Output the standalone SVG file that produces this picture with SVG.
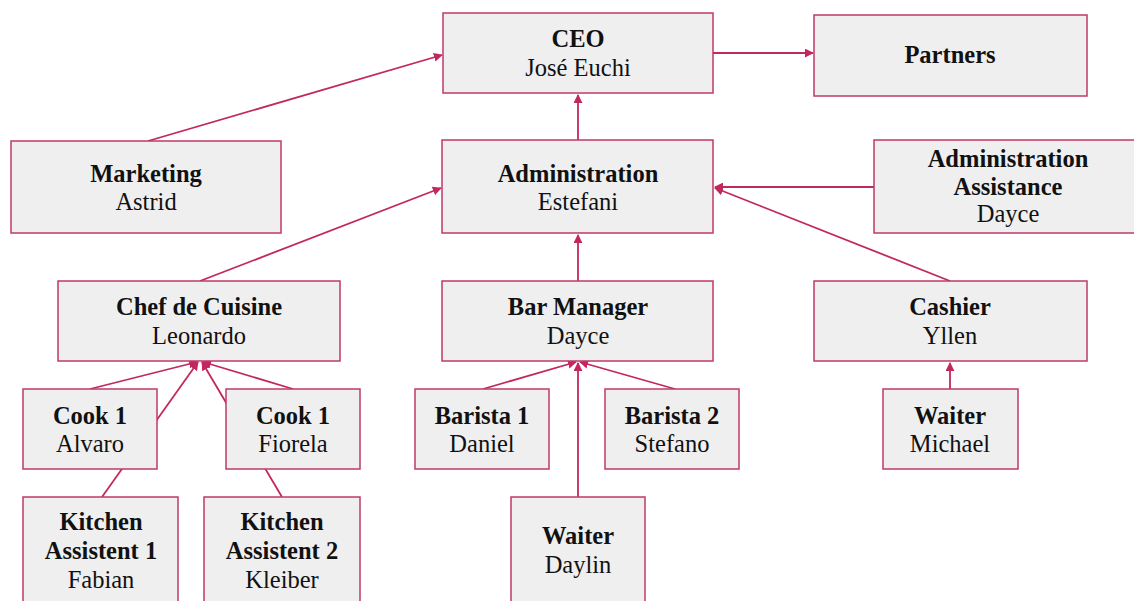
<svg xmlns="http://www.w3.org/2000/svg" width="1134" height="601" viewBox="0 0 1134 601">
<style>
.box{fill:#efeff0;stroke:#bf3a6c;stroke-width:1.5}
.b{font-family:"Liberation Serif","Times New Roman",serif;font-size:24.5px;font-weight:bold;fill:#111;text-anchor:middle}
.r{font-family:"Liberation Serif","Times New Roman",serif;font-size:24.5px;fill:#111;text-anchor:middle}
.la{stroke:#c2285f;stroke-width:1.8;fill:none;marker-end:url(#ah)}
</style>
<defs>
<marker id="ah" viewBox="0 0 10 10" refX="9" refY="5" markerWidth="5" markerHeight="5" orient="auto" markerUnits="strokeWidth">
<path d="M0,0 L10,5 L0,10 z" fill="#c2285f"/>
</marker>
</defs>
<rect width="1134" height="601" fill="#ffffff"/>
<g id="connectors">
<line class="la" x1="713" y1="53" x2="813" y2="53"/>
<line class="la" x1="148" y1="141" x2="442" y2="55"/>
<line class="la" x1="578" y1="140" x2="578" y2="95"/>
<line class="la" x1="200" y1="281" x2="441" y2="188"/>
<line class="la" x1="874" y1="187" x2="715" y2="187"/>
<line class="la" x1="950" y1="281" x2="715" y2="188"/>
<line class="la" x1="578" y1="281" x2="578" y2="235"/>
<line class="la" x1="90" y1="389" x2="197" y2="362"/>
<line class="la" x1="102" y1="497" x2="198" y2="362"/>
<line class="la" x1="282" y1="497" x2="202" y2="362"/>
<line class="la" x1="293" y1="389" x2="203" y2="362"/>
<line class="la" x1="483" y1="389" x2="576" y2="362"/>
<line class="la" x1="675" y1="389" x2="580" y2="362"/>
<line class="la" x1="578" y1="497" x2="578" y2="363"/>
<line class="la" x1="950" y1="389" x2="950" y2="363"/>
</g>
<g id="ceo"><rect class="box" x="443" y="13" width="270" height="80"/><text class="b" x="578" y="47">CEO</text><text class="r" x="578" y="76">José Euchi</text></g>
<g id="partners"><rect class="box" x="814" y="15" width="273" height="81"/><text class="b" x="950" y="63">Partners</text></g>
<g id="marketing"><rect class="box" x="11" y="141" width="270" height="92"/><text class="b" x="146" y="182">Marketing</text><text class="r" x="146" y="210">Astrid</text></g>
<g id="administration"><rect class="box" x="442" y="140" width="271" height="93"/><text class="b" x="578" y="182">Administration</text><text class="r" x="578" y="210">Estefani</text></g>
<g id="admin-assistance"><rect class="box" x="874" y="140" width="270" height="93"/><text class="b" x="1008" y="167">Administration</text><text class="b" x="1008" y="195">Assistance</text><text class="r" x="1008" y="222">Dayce</text></g>
<g id="chef"><rect class="box" x="58" y="281" width="282" height="80"/><text class="b" x="199" y="315">Chef de Cuisine</text><text class="r" x="199" y="344">Leonardo</text></g>
<g id="bar-manager"><rect class="box" x="442" y="281" width="271" height="80"/><text class="b" x="578" y="315">Bar Manager</text><text class="r" x="578" y="344">Dayce</text></g>
<g id="cashier"><rect class="box" x="814" y="281" width="273" height="80"/><text class="b" x="950" y="315">Cashier</text><text class="r" x="950" y="344">Yllen</text></g>
<g id="cook1-alvaro"><rect class="box" x="23" y="389" width="134" height="80"/><text class="b" x="90" y="424">Cook 1</text><text class="r" x="90" y="452">Alvaro</text></g>
<g id="cook1-fiorela"><rect class="box" x="226" y="389" width="134" height="80"/><text class="b" x="293" y="424">Cook 1</text><text class="r" x="293" y="452">Fiorela</text></g>
<g id="barista1"><rect class="box" x="415" y="389" width="134" height="80"/><text class="b" x="482" y="424">Barista 1</text><text class="r" x="482" y="452">Daniel</text></g>
<g id="barista2"><rect class="box" x="605" y="389" width="134" height="80"/><text class="b" x="672" y="424">Barista 2</text><text class="r" x="672" y="452">Stefano</text></g>
<g id="waiter-michael"><rect class="box" x="883" y="389" width="135" height="80"/><text class="b" x="950" y="424">Waiter</text><text class="r" x="950" y="452">Michael</text></g>
<g id="kitchen1"><rect class="box" x="23" y="497" width="155" height="115"/><text class="b" x="101" y="530">Kitchen</text><text class="b" x="101" y="559">Assistent 1</text><text class="r" x="101" y="588">Fabian</text></g>
<g id="kitchen2"><rect class="box" x="204" y="497" width="156" height="115"/><text class="b" x="282" y="530">Kitchen</text><text class="b" x="282" y="559">Assistent 2</text><text class="r" x="282" y="588">Kleiber</text></g>
<g id="waiter-daylin"><rect class="box" x="511" y="497" width="134" height="115"/><text class="b" x="578" y="544">Waiter</text><text class="r" x="578" y="573">Daylin</text></g>
</svg>
